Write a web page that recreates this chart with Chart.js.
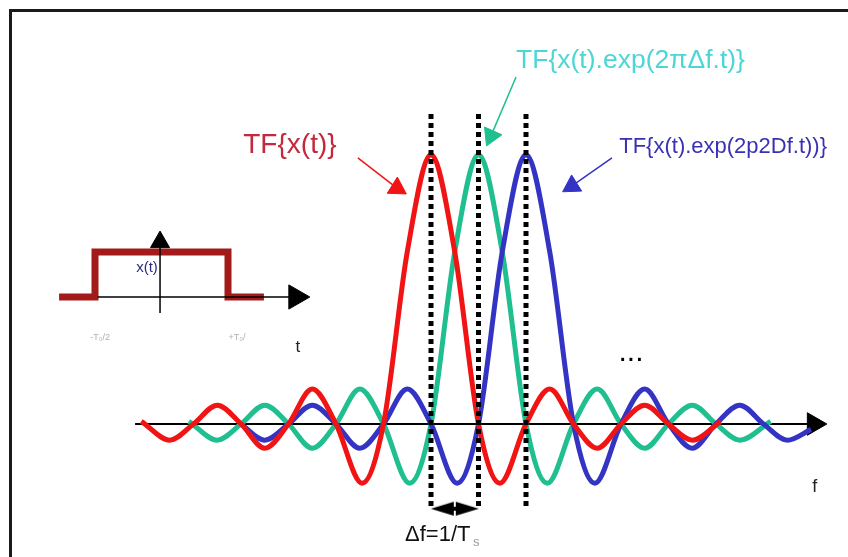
<!DOCTYPE html>
<html>
<head>
<meta charset="utf-8">
<script src="https://cdn.jsdelivr.net/npm/chart.js@4.4.0/dist/chart.umd.min.js"></script>
<style>
  body { margin: 0; background: #fff; }
  #wrap { position: relative; width: 848px; height: 557px; }
  #frame { position: absolute; left: 9px; top: 9px; right: 0; bottom: 0;
           border-left: 3px solid #1a1a1a; border-top: 3px solid #1a1a1a; pointer-events: none; }
</style>
</head>
<body>
<div id="wrap">
  <canvas id="myChart" width="848" height="557"></canvas>
  <div id="frame"></div>
</div>
<script>
// spectra: f in units of Δf, amplitude relative to the main lobe
const redF   = [-6.1, -5.5, -5, -4.5, -4, -3.5, -3, -2.5, -2, -1.45, -1, -0.5, 0, 0.5, 1, 1.45, 2, 2.5, 3, 3.5, 4, 4.5, 5, 5.5, 6.1];
const redA   = [0.01, -0.06, 0, 0.07, 0, -0.09, 0, 0.13, 0, -0.22, 0, 0.64, 1, 0.64, 0, -0.22, 0, 0.13, 0, -0.09, 0, 0.07, 0, -0.06, 0.01];
const greenF = [-5.1, -4.5, -4, -3.5, -3, -2.5, -2, -1.5, -1, -0.45, 0, 0.5, 1, 1.5, 2, 2.45, 3, 3.5, 4, 4.5, 5, 5.5, 6, 6.5, 7.15];
const greenA = [0.01, -0.06, 0, 0.07, 0, -0.09, 0, 0.13, 0, -0.22, 0, 0.64, 1, 0.64, 0, -0.22, 0, 0.13, 0, -0.09, 0, 0.07, 0, -0.06, 0.01];
const blueF  = [-4, -3.5, -3, -2.5, -2, -1.5, -1, -0.5, 0, 0.55, 1, 1.5, 2, 2.5, 3, 3.45, 4, 4.5, 5, 5.5, 6, 6.5, 7, 7.5, 8];
const blueA  = [0, -0.06, 0, 0.07, 0, -0.09, 0, 0.13, 0, -0.22, 0, 0.64, 1, 0.64, 0, -0.22, 0, 0.13, 0, -0.09, 0, 0.07, 0, -0.06, -0.02];
const peaks  = [0, 1, 2];

// inset: rectangular pulse, t in units of T
const pulseT = [-0.77, -0.5, -0.5, 0.5, 0.5, 0.77];
const pulseX = [0, 0, 1, 1, 0, 0];

const colors = ['#f01414', '#1fbf8f', '#3434c4'];
const font = '"Liberation Sans", Arial, sans-serif';

const labels = [
  {text: 'TF{x(t)}', x: -2.97, y: 1.037, size: 28, color: '#c4283a'},
  {text: 'TF{x(t).exp(2πΔf.t)}', x: 4.2, y: 1.35, size: 26.5, color: '#4cd6d6'},
  {text: 'TF{x(t).exp(2p2Df.t))}', x: 6.15, y: 1.03, size: 22, color: '#3a30b4'},
  {text: '...', x: 4.21, y: 0.265, size: 30, color: '#000'},
  {text: 'f', x: 8.08, y: -0.234, size: 18, color: '#222'},
  {text: 'Δf=1/T', x: -0.547, y: -0.413, size: 22, color: '#111', align: 'left'},
  {text: 's', x: 0.884, y: -0.442, size: 13, color: '#999', align: 'left'},
  {text: 'x(t)', x: -0.109, y: 0.644, size: 15, color: '#2d2d80', inset: true},
  {text: '-T₀/2', x: -0.462, y: -0.911, size: 9, color: '#b0b0b0', inset: true},
  {text: '+T₀/', x: 0.568, y: -0.911, size: 9, color: '#b0b0b0', inset: true},
  {text: 't', x: 1.026, y: -1.111, size: 17, color: '#222', inset: true}
];

function pts(xs, ys) {
  return xs.map((x, i) => ({x: x, y: ys[i]}));
}

function curve(xs, ys, color, order) {
  return {
    data: pts(xs, ys), borderColor: color, borderWidth: 5, pointRadius: 0,
    cubicInterpolationMode: 'monotone', order: order
  };
}

// straight segment with a triangle head on the last point
function arrow(data, color, width, head, rot, order, inset) {
  return {
    data: data, borderColor: color, borderWidth: width, tension: 0,
    pointStyle: 'triangle', pointRadius: data.map((p, i) => i == data.length - 1 ? head : 0),
    pointRotation: rot, pointBackgroundColor: color, pointBorderColor: color, pointBorderWidth: 1,
    order: order, xAxisID: inset ? 'x2' : 'x', yAxisID: inset ? 'y2' : 'y'
  };
}

// ◀▶ glyph for the Δf marker
const dbl = document.createElement('canvas');
dbl.width = 48; dbl.height = 16;
(function () {
  const c = dbl.getContext('2d');
  c.fillStyle = '#000';
  c.beginPath(); c.moveTo(0, 8); c.lineTo(23, 1); c.lineTo(23, 15); c.closePath(); c.fill();
  c.beginPath(); c.moveTo(48, 8); c.lineTo(25, 1); c.lineTo(25, 15); c.closePath(); c.fill();
  c.fillRect(23, 6, 2, 4);
})();

const datasets = [];
peaks.forEach(p => {
  datasets.push({
    data: [{x: p, y: 1.152}, {x: p, y: -0.312}], borderColor: '#000', borderWidth: 5,
    borderDash: [5, 4], pointRadius: 0, order: 1
  });
});
datasets.push(curve(redF, redA, colors[0], 2));
datasets.push(curve(blueF, blueA, colors[2], 3));
datasets.push(curve(greenF, greenA, colors[1], 4));
datasets.push(arrow([{x: -6.23, y: 0}, {x: 8.06, y: 0}], '#000', 2, 13, 90, 6));

// Δf marker between the first two peaks
datasets.push({
  data: [{x: 0.5, y: -0.315}], showLine: false, pointStyle: dbl, pointRadius: 10, order: 0
});

// label pointers
datasets.push(arrow([{x: -1.54, y: 0.989}, {x: -0.716, y: 0.877}], colors[0], 1.5, 11, 122, 0));
datasets.push(arrow([{x: 1.79, y: 1.29}, {x: 1.263, y: 1.071}], colors[1], 1.5, 11, 204, 0));
datasets.push(arrow([{x: 3.81, y: 0.989}, {x: 2.968, y: 0.885}], colors[2], 1.5, 11, 238, 0));

// inset pulse and its axes
datasets.push({
  data: pts(pulseT, pulseX), borderColor: '#a31a1a', borderWidth: 7, pointRadius: 0,
  borderJoinStyle: 'miter', order: 1, xAxisID: 'x2', yAxisID: 'y2'
});
datasets.push(arrow([{x: -0.48, y: 0}, {x: 1.01, y: 0}], '#000', 1.5, 14, 90, 0, true));
datasets.push(arrow([{x: -0.011, y: -0.356}, {x: -0.011, y: 1.22}], '#000', 1.5, 11, 0, 0, true));

const textPlugin = {
  id: 'texts',
  afterDatasetsDraw(chart) {
    const ctx = chart.ctx;
    ctx.save();
    labels.forEach(l => {
      const xs = chart.scales[l.inset ? 'x2' : 'x'];
      const ys = chart.scales[l.inset ? 'y2' : 'y'];
      ctx.font = l.size + 'px ' + font;
      ctx.fillStyle = l.color;
      ctx.textAlign = l.align || 'center';
      ctx.textBaseline = 'middle';
      ctx.fillText(l.text, xs.getPixelForValue(l.x), ys.getPixelForValue(l.y));
    });
    ctx.restore();
  }
};

new Chart(document.getElementById('myChart'), {
  type: 'scatter',
  data: {datasets: datasets.map(d => Object.assign({showLine: true, fill: false}, d))},
  options: {
    responsive: false,
    animation: false,
    events: [],
    layout: {padding: 0, autoPadding: false},
    plugins: {legend: {display: false}, tooltip: {enabled: false}},
    scales: {
      x:  {type: 'linear', display: false, min: -9.0737, max: 8.7789},
      y:  {type: 'linear', display: false, min: -0.4944, max: 1.5762},
      x2: {type: 'linear', display: false, min: -1.2143, max: 5.1617},
      y2: {type: 'linear', display: false, min: -5.7778, max: 6.6}
    }
  },
  plugins: [textPlugin]
});
</script>
</body>
</html>
